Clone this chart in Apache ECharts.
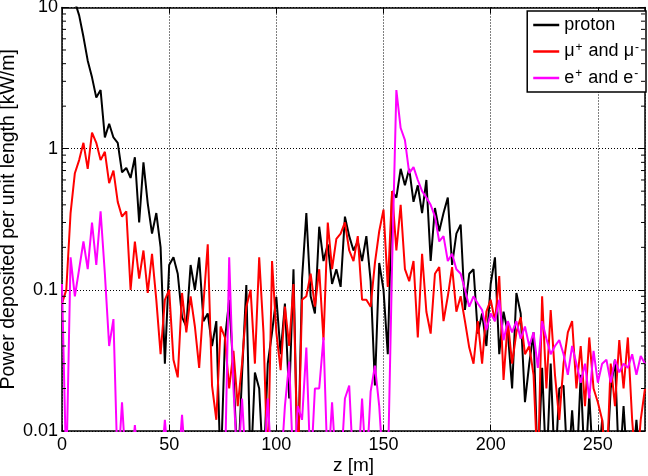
<!DOCTYPE html>
<html><head><meta charset="utf-8">
<script src="https://cdn.jsdelivr.net/npm/echarts@6/dist/echarts.min.js"></script>
<style>html,body{margin:0;padding:0;background:#fff}#c{width:648px;height:476px}</style>
</head><body><div id="c"></div>
<script>
// z positions [m]
const zPos = [0,2,4,6,8,10,12,14,16,18,20,22,24,26,28,30,32,34,36,38,40,42,44,46,48,50,52,54,56,58,
60,62,64,66,68,70,72,74,76,78,80,82,84,86,88,90,92,94,96,98,100,102,104,106,108,110,112,114,116,118,
120,122,124,126,128,130,132,134,136,138,140,142,144,146,148,150,152,154,156,158,160,162,164,166,168,170,172,174,176,178,
180,182,184,186,188,190,192,194,196,198,200,202,204,206,208,210,212,214,216,218,220,222,224,226,228,230,232,234,236,238,
240,242,244,246,248,250,252,254,256,258,260,262,264,266,268,270,272];

const proton = [18,15,13,11,8.8,6.2,4.2,3.2,2.3,2.6,
1.2,1.5,1.2,1.1,0.68,0.73,0.62,0.87,0.3,0.8,
0.41,0.25,0.35,0.2,0.03,0.15,0.17,0.13,0.064,0.055,
0.15,0.1,0.17,0.06,0.068,0.04,0.06,0.005,0.044,0.085,
0.026,0.005,0.025,0.108,0.005,0.026,0.02,0.005,0.03,0.05,
0.089,0.035,0.08,0.017,0.14,0.005,0.12,0.35,0.09,0.068,
0.28,0.16,0.21,0.11,0.14,0.105,0.33,0.24,0.19,0.22,
0.16,0.24,0.115,0.021,0.155,0.1,0.035,0.5,0.45,0.72,
0.55,0.72,0.42,0.55,0.35,0.6,0.16,0.38,0.26,0.35,
0.45,0.15,0.25,0.29,0.072,0.13,0.14,0.049,0.068,0.04,
0.11,0.17,0.035,0.07,0.05,0.02,0.095,0.068,0.016,0.03,
0.05,0.005,0.028,0.005,0.03,0.005,0.02,0.021,0.005,0.014,
0.005,0.025,0.005,0.018,0.005,0.005,0.012,0.005,0.02,0.032,
0.005,0.015,0.005,0.005,0.012,0.005,0.005];

const muon = [0.08,0.1,0.35,0.67,0.83,1.1,0.72,1.3,1.1,0.83,
0.95,0.57,0.7,0.42,0.33,0.36,0.1,0.22,0.12,0.19,
0.095,0.18,0.085,0.035,0.085,0.1,0.032,0.024,0.095,0.05,
0.09,0.055,0.028,0.08,0.21,0.021,0.012,0.055,0.046,0.02,
0.037,0.015,0.03,0.076,0.1,0.03,0.17,0.05,0.005,0.16,
0.05,0.027,0.076,0.04,0.11,0.005,0.085,0.09,0.13,0.076,
0.14,0.044,0.3,0.14,0.23,0.25,0.3,0.19,0.16,0.24,
0.085,0.085,0.076,0.155,0.26,0.37,0.105,0.5,0.19,0.4,
0.14,0.115,0.16,0.046,0.18,0.07,0.049,0.13,0.145,0.06,
0.09,0.145,0.07,0.09,0.06,0.039,0.03,0.06,0.03,0.07,
0.085,0.06,0.125,0.023,0.06,0.03,0.05,0.064,0.035,0.04,
0.025,0.005,0.09,0.02,0.072,0.025,0.012,0.03,0.05,0.06,
0.02,0.04,0.015,0.046,0.02,0.016,0.012,0.005,0.03,0.015,
0.044,0.02,0.046,0.012,0.005,0.012,0.02];

const electron = [0.11,0.005,0.17,0.09,0.14,0.22,0.14,0.3,0.15,0.36,
0.13,0.04,0.062,0.005,0.016,0.005,0.005,0.011,0.005,0.005,
0.005,0.005,0.005,0.005,0.012,0.005,0.005,0.005,0.013,0.005,
0.005,0.005,0.005,0.005,0.005,0.005,0.005,0.005,0.005,0.17,
0.02,0.005,0.017,0.005,0.005,0.005,0.005,0.005,0.017,0.005,
0.005,0.005,0.015,0.031,0.005,0.015,0.012,0.039,0.005,0.02,
0.02,0.046,0.005,0.016,0.005,0.005,0.017,0.021,0.005,0.005,
0.017,0.005,0.019,0.029,0.015,0.005,0.005,0.15,2.6,1.4,
1.15,0.67,0.74,0.6,0.5,0.45,0.4,0.33,0.22,0.24,
0.16,0.18,0.14,0.13,0.1,0.076,0.09,0.08,0.072,0.052,
0.068,0.06,0.085,0.044,0.06,0.05,0.06,0.045,0.055,0.04,
0.05,0.028,0.06,0.045,0.035,0.04,0.044,0.035,0.025,0.04,
0.03,0.022,0.03,0.017,0.037,0.022,0.03,0.032,0.022,0.032,
0.026,0.03,0.028,0.035,0.025,0.034,0.03];

const seriesNames = ['proton', 'μ+ and μ-', 'e+ and e-'];
const legendRich = {
  'proton': '{n|proton}',
  'μ+ and μ-': '{n|μ}{s|+}{n| and μ}{s|-}',
  'e+ and e-': '{n|e}{s|+}{n| and e}{s|-}'
};
const yTickLabels = {0.01: '0.01', 0.1: '0.1', 1: '1', 10: '10'};
const yMinorTicks = [0.02,0.03,0.04,0.05,0.06,0.07,0.08,0.09,0.2,0.3,0.4,0.5,0.6,0.7,0.8,0.9,2,3,4,5,6,7,8,9];

const FONT = "'Liberation Sans', Arial, Helvetica, sans-serif";
const pair = arr => zPos.map((z, i) => [z, arr[i]]);

const chart = echarts.init(document.getElementById('c'), null, {renderer: 'canvas'});
const gridLine = {show: true, lineStyle: {color: '#000', width: 1, type: [1, 2]}};
const frameLine = {show: true, onZero: false, lineStyle: {color: '#000', width: 1.5}};
const tickIn = {show: true, inside: true, length: 6, lineStyle: {color: '#000', width: 1}};

chart.setOption({
  animation: false,
  backgroundColor: '#fff',
  textStyle: {fontFamily: FONT},
  grid: {left: 62, right: 3, top: 7.5, bottom: 45, containLabel: false, outerBoundsMode: 'none'},
  legend: {
    data: seriesNames,
    orient: 'vertical', right: 2, top: 11,
    backgroundColor: '#fff', borderColor: '#000', borderWidth: 1.5, borderRadius: 0,
    padding: [5, 6, 5, 6], itemGap: 7.5, itemWidth: 26, itemHeight: 2.5, icon: 'rect',
    formatter: name => legendRich[name],
    textStyle: {fontSize: 18, color: '#000', fontFamily: FONT,
      rich: {
        n: {fontSize: 18, color: '#000', fontFamily: FONT, lineHeight: 20},
        s: {fontSize: 12, color: '#000', fontFamily: FONT, verticalAlign: 'top', lineHeight: 12, padding: [0, 1, 0, 1]}
      }}
  },
  xAxis: [{
    type: 'value', min: 0, max: 272, interval: 50, position: 'bottom',
    axisLine: frameLine, axisTick: tickIn, splitLine: gridLine,
    axisLabel: {fontSize: 18, color: '#000', margin: 5, showMaxLabel: false, fontFamily: FONT},
    name: 'z [m]', nameLocation: 'middle', nameGap: 25, nameMoveOverlap: false,
    nameTextStyle: {fontSize: 19, color: '#000', fontFamily: FONT}
  }, {
    type: 'value', min: 0, max: 272, interval: 50, position: 'top',
    axisLine: frameLine, axisTick: tickIn, splitLine: {show: false}, axisLabel: {show: false}
  }],
  yAxis: [{
    type: 'log', logBase: 10, min: 0.01, max: 10, position: 'left',
    axisLine: frameLine, axisTick: tickIn, splitLine: gridLine,
    axisLabel: {fontSize: 18, color: '#000', margin: 4, fontFamily: FONT,
      formatter: v => yTickLabels[Number(v.toPrecision(3))] || ''},
    name: 'Power deposited per unit length [kW/m]', nameLocation: 'middle', nameGap: 43, nameMoveOverlap: false,
    nameTextStyle: {fontSize: 19.5, color: '#000', fontFamily: FONT}
  }, {
    type: 'log', logBase: 10, min: 0.01, max: 10, position: 'right',
    axisLine: frameLine, axisTick: tickIn, splitLine: {show: false}, axisLabel: {show: false}
  }],
  series: [
    {name: seriesNames[0], type: 'line', data: pair(proton), showSymbol: false, clip: true,
     lineStyle: {color: '#000', width: 2}, itemStyle: {color: '#000'}},
    {name: seriesNames[1], type: 'line', data: pair(muon), showSymbol: false, clip: true,
     lineStyle: {color: '#ff0000', width: 2}, itemStyle: {color: '#ff0000'}},
    {name: seriesNames[2], type: 'line', data: pair(electron), showSymbol: false, clip: true,
     lineStyle: {color: '#ff00ff', width: 2}, itemStyle: {color: '#ff00ff'}},
    {type: 'custom', silent: true, z: 5, clip: false,
     data: yMinorTicks.map(v => [0, v]),
     renderItem: (params, api) => {
       const cs = params.coordSys;
       const y = api.coord([0, api.value(1)])[1];
       const st = {stroke: '#000', lineWidth: 1};
       return {type: 'group', children: [
         {type: 'line', shape: {x1: cs.x, y1: y, x2: cs.x + 4, y2: y}, style: st},
         {type: 'line', shape: {x1: cs.x + cs.width - 4, y1: y, x2: cs.x + cs.width, y2: y}, style: st}
       ]};
     }}
  ]
});
</script></body></html>
